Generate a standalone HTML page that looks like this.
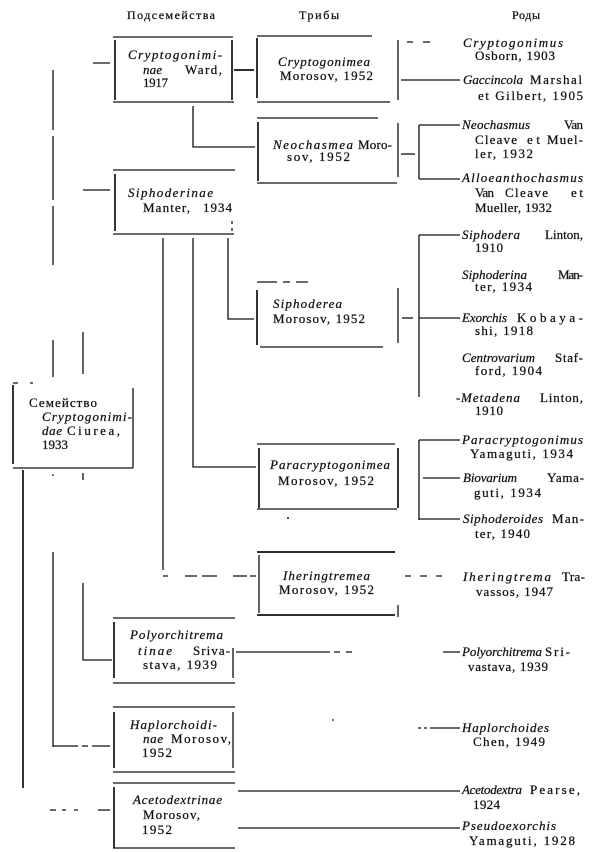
<!DOCTYPE html>
<html>
<head>
<meta charset="utf-8">
<style>
html,body{margin:0;padding:0;background:#fff;}
body{width:600px;height:852px;overflow:hidden;}
svg{display:block;}
text{font-family:"Liberation Serif","DejaVu Serif",serif;font-size:13px;fill:#111;stroke:#111;stroke-width:0.25;}
.h{font-size:12px;}
.i{font-style:italic;}
line,path{stroke:#111;stroke-width:1.3;fill:none;}
.b{stroke-width:1.7;}
.dd{stroke-dasharray:3 4;}
</style>
</head>
<body>
<svg width="600" height="852" viewBox="0 0 600 852" xmlns="http://www.w3.org/2000/svg">
<!-- headers -->
<text class="h" x="127" y="19" textLength="88" lengthAdjust="spacing">Подсемейства</text>
<text class="h" x="299" y="19" textLength="40" lengthAdjust="spacing">Трибы</text>
<text class="h" x="512" y="19" textLength="28" lengthAdjust="spacing">Роды</text>

<!-- Box 1 Cryptogonimiinae -->
<path d="M113,37 H233"/>
<path d="M113,102 H234"/>
<path class="b" d="M115,40 V100"/>
<path class="b" d="M232,40 V100"/>
<path d="M93,63 H110"/>
<path class="b" d="M234,70 H254"/>
<text class="i" x="128" y="59" textLength="94" lengthAdjust="spacing">Cryptogonimi-</text>
<text class="i" x="143" y="74" textLength="19" lengthAdjust="spacing">nae</text>
<text x="185" y="74" textLength="37" lengthAdjust="spacing">Ward,</text>
<text x="143" y="87" textLength="25" lengthAdjust="spacing">1917</text>

<!-- Tribe Cryptogonimea -->
<path d="M257,36 H372"/>
<path d="M257,102 H390"/>
<path class="b" d="M257,38 V98"/>
<path d="M398,40 V100"/>
<path d="M401,80 H460"/>
<path d="M407,42 H413 M423,42 H430"/>
<text class="i" x="278" y="66" textLength="92" lengthAdjust="spacing">Cryptogonimea</text>
<text x="280" y="80" textLength="93" lengthAdjust="spacing">Morosov, 1952</text>

<!-- connector to Neochasmea -->
<path d="M193,106 V147 H255"/>

<!-- Neochasmea -->
<path d="M257,118 H378"/>
<path d="M257,183 H397"/>
<path class="b" d="M258,122 V181"/>
<path d="M398,123 V177"/>
<path d="M401,154 H415"/>
<path d="M419,125 V179"/>
<path d="M419,125 H460 M419,179 H460"/>
<text class="i" x="273" y="149" textLength="80" lengthAdjust="spacing">Neochasmea</text>
<text x="358" y="149" textLength="34" lengthAdjust="spacing">Moro-</text>
<text x="287" y="161" textLength="63" lengthAdjust="spacing">sov, 1952</text>

<!-- Siphoderinae -->
<path d="M113,170 H235"/>
<path d="M113,234 H234"/>
<path class="b" d="M115,174 V231"/>
<path class="dd" d="M232,221 V231"/>
<path d="M83,190 H110"/>
<text class="i" x="128" y="197" textLength="85" lengthAdjust="spacing">Siphoderinae</text>
<text x="143" y="212" textLength="47" lengthAdjust="spacing">Manter,</text>
<text x="203" y="212" textLength="29" lengthAdjust="spacing">1934</text>

<!-- verticals from Siphoderinae -->
<path d="M163,238 V570"/>
<path d="M193,238 V467 H256"/>
<path d="M228,238 V319 H254"/>

<!-- Siphoderea -->
<path d="M257,282 H277 M283,282 H290 M296,282 H308"/>
<path d="M260,347 H383"/>
<path class="b" d="M257,290 V345"/>
<path d="M398,288 V343"/>
<path d="M402,318 H413"/>
<path d="M419,235 V397"/>
<path d="M419,235 H460 M419,318 H460"/>
<text class="i" x="273" y="308" textLength="69" lengthAdjust="spacing">Siphoderea</text>
<text x="273" y="323" textLength="92" lengthAdjust="spacing">Morosov, 1952</text>

<!-- Paracryptogonimea -->
<path d="M257,444 H395"/>
<path d="M257,509 H397"/>
<path class="b" d="M259,448 V508"/>
<path class="b" d="M398,448 V508"/>
<path d="M419,440 V520"/>
<path d="M419,440 H460 M423,478 H460 M419,519 H460"/>
<circle cx="288" cy="518" r="1" fill="#111"/>
<text class="i" x="270" y="469" textLength="120" lengthAdjust="spacing">Paracryptogonimea</text>
<text x="278" y="485" textLength="96" lengthAdjust="spacing">Morosov, 1952</text>

<!-- Iheringtremea -->
<path class="b" d="M257,552 H395"/>
<path class="b" d="M257,615 H395"/>
<path d="M259,555 V613"/>
<path d="M398,605 V617"/>
<path d="M163,576 H168 M185,576 H197 M202,576 H217 M233,576 H247 M250,576 H256"/>
<path d="M405,576 H411 M420,576 H427 M436,576 H442"/>
<text class="i" x="283" y="580" textLength="87" lengthAdjust="spacing">Iheringtremea</text>
<text x="279" y="594" textLength="95" lengthAdjust="spacing">Morosov, 1952</text>

<!-- Family box and verticals -->
<path d="M53,70 V130 M53,136 V200 M53,206 V265"/>
<path d="M53,340 V377"/>
<path d="M83,332 V374"/>
<path d="M13,383 H18 M30,383 H33"/>
<path class="b" d="M13,385 V464"/>
<path d="M133,388 V468"/>
<path d="M13,468 H133"/>
<text x="29" y="407" textLength="68" lengthAdjust="spacing">Семейство</text>
<text class="i" x="42" y="421" textLength="90" lengthAdjust="spacing">Cryptogonimi-</text>
<text class="i" x="42" y="435" textLength="20" lengthAdjust="spacing">dae</text>
<text x="67" y="435" textLength="53" lengthAdjust="spacing">Ciurea,</text>
<text x="42" y="449" textLength="26" lengthAdjust="spacing">1933</text>

<!-- left verticals below family -->
<path class="b" d="M23,470 V788"/>
<path d="M53,552 V747"/>
<circle cx="53" cy="475" r="0.9" fill="#111"/>
<path d="M83,473 V480"/>
<path d="M83,583 V660 H112"/>
<path d="M53,746 H78 M82,746 H88 M92,746 H110"/>
<path d="M50,810 H56 M62,810 H66 M74,810 H78 M98,810 H110"/>

<!-- Polyorchitrematinae -->
<path d="M113,618 H235"/>
<path d="M113,683 H235"/>
<path class="b" d="M114,622 V678"/>
<path d="M233,648 V678"/>
<path d="M236,652 H330 M334,652 H340 M346,652 H352"/>
<path d="M443,652 H460"/>
<text class="i" x="130" y="639" textLength="93" lengthAdjust="spacing">Polyorchitrema</text>
<text class="i" x="138" y="655" textLength="34" lengthAdjust="spacing">tinae</text>
<text x="193" y="655" textLength="37" lengthAdjust="spacing">Sriva-</text>
<text x="143" y="669" textLength="74" lengthAdjust="spacing">stava, 1939</text>

<!-- Haplorchoidinae -->
<path d="M113,707 H235"/>
<path d="M113,772 H235"/>
<path class="b" d="M114,712 V768"/>
<path d="M233,712 V768"/>
<circle cx="333" cy="720" r="0.9" fill="#111"/>
<path d="M418,728 H421 M424,728 H427 M430,728 H460"/>
<text class="i" x="130" y="729" textLength="87" lengthAdjust="spacing">Haplorchoidi-</text>
<text class="i" x="143" y="743" textLength="20" lengthAdjust="spacing">nae</text>
<text x="171" y="743" textLength="60" lengthAdjust="spacing">Morosov,</text>
<text x="142" y="757" textLength="30" lengthAdjust="spacing">1952</text>

<!-- Acetodextrinae -->
<path d="M113,783 H235"/>
<path d="M113,848 H235"/>
<path class="b" d="M114,787 V848"/>
<path d="M238,791 H460"/>
<path d="M238,828 H460"/>
<text class="i" x="133" y="804" textLength="89" lengthAdjust="spacing">Acetodextrinae</text>
<text x="143" y="819" textLength="57" lengthAdjust="spacing">Morosov,</text>
<text x="142" y="834" textLength="30" lengthAdjust="spacing">1952</text>

<!-- Genera -->
<text class="i" x="463" y="47" textLength="100" lengthAdjust="spacing">Cryptogonimus</text>
<text x="475" y="60" textLength="80" lengthAdjust="spacing">Osborn, 1903</text>

<text class="i" x="463" y="84" textLength="60" lengthAdjust="spacing">Gaccincola</text>
<text x="530" y="84" textLength="52" lengthAdjust="spacing">Marshal</text>
<text x="478" y="100" textLength="105" lengthAdjust="spacing">et Gilbert,  1905</text>

<text class="i" x="462" y="129" textLength="68" lengthAdjust="spacing">Neochasmus</text>
<text x="564" y="129" textLength="19" lengthAdjust="spacing">Van</text>
<text x="475" y="144" textLength="42" lengthAdjust="spacing">Cleave</text>
<text x="527" y="144" textLength="13" lengthAdjust="spacing">et</text>
<text x="547" y="144" textLength="36" lengthAdjust="spacing">Muel-</text>
<text x="475" y="158" textLength="58" lengthAdjust="spacing">ler, 1932</text>

<text class="i" x="462" y="182" textLength="121" lengthAdjust="spacing">Alloeanthochasmus</text>
<text x="475" y="197" textLength="19" lengthAdjust="spacing">Van</text>
<text x="505" y="197" textLength="43" lengthAdjust="spacing">Cleave</text>
<text x="571" y="197" textLength="12" lengthAdjust="spacing">et</text>
<text x="475" y="212" textLength="77" lengthAdjust="spacing">Mueller, 1932</text>

<text class="i" x="462" y="239" textLength="58" lengthAdjust="spacing">Siphodera</text>
<text x="545" y="239" textLength="38" lengthAdjust="spacing">Linton,</text>
<text x="475" y="252" textLength="28" lengthAdjust="spacing">1910</text>

<text class="i" x="462" y="279" textLength="65" lengthAdjust="spacing">Siphoderina</text>
<text x="558" y="279" textLength="25" lengthAdjust="spacing">Man-</text>
<text x="475" y="291" textLength="57" lengthAdjust="spacing">ter, 1934</text>

<text class="i" x="462" y="322" textLength="45" lengthAdjust="spacing">Exorchis</text>
<text x="517" y="322" textLength="66" lengthAdjust="spacing">Kobaya-</text>
<text x="475" y="335" textLength="58" lengthAdjust="spacing">shi, 1918</text>

<text class="i" x="462" y="362" textLength="73" lengthAdjust="spacing">Centrovarium</text>
<text x="555" y="362" textLength="28" lengthAdjust="spacing">Staf-</text>
<text x="475" y="375" textLength="67" lengthAdjust="spacing">ford, 1904</text>

<text x="456" y="402">-</text>
<text class="i" x="461" y="402" textLength="59" lengthAdjust="spacing">Metadena</text>
<text x="540" y="402" textLength="43" lengthAdjust="spacing">Linton,</text>
<text x="475" y="415" textLength="28" lengthAdjust="spacing">1910</text>

<text class="i" x="462" y="444" textLength="121" lengthAdjust="spacing">Paracryptogonimus</text>
<text x="470" y="458" textLength="103" lengthAdjust="spacing">Yamaguti, 1934</text>

<text class="i" x="463" y="482" textLength="54" lengthAdjust="spacing">Biovarium</text>
<text x="547" y="482" textLength="37" lengthAdjust="spacing">Yama-</text>
<text x="474" y="497" textLength="67" lengthAdjust="spacing">guti, 1934</text>

<text class="i" x="463" y="523" textLength="80" lengthAdjust="spacing">Siphoderoides</text>
<text x="552" y="523" textLength="32" lengthAdjust="spacing">Man-</text>
<text x="475" y="538" textLength="55" lengthAdjust="spacing">ter, 1940</text>

<text class="i" x="463" y="581" textLength="88" lengthAdjust="spacing">Iheringtrema</text>
<text x="562" y="581" textLength="23" lengthAdjust="spacing">Tra-</text>
<text x="476" y="596" textLength="77" lengthAdjust="spacing">vassos, 1947</text>

<text class="i" x="462" y="656" textLength="80" lengthAdjust="spacing">Polyorchitrema</text>
<text x="545" y="656" textLength="25" lengthAdjust="spacing">Sri-</text>
<text x="468" y="671" textLength="80" lengthAdjust="spacing">vastava, 1939</text>

<text class="i" x="462" y="732" textLength="87" lengthAdjust="spacing">Haplorchoides</text>
<text x="473" y="746" textLength="72" lengthAdjust="spacing">Chen, 1949</text>

<text class="i" x="462" y="794" textLength="60" lengthAdjust="spacing">Acetodextra</text>
<text x="530" y="794" textLength="50" lengthAdjust="spacing">Pearse,</text>
<text x="473" y="809" textLength="27" lengthAdjust="spacing">1924</text>

<text class="i" x="462" y="830" textLength="94" lengthAdjust="spacing">Pseudoexorchis</text>
<text x="469" y="845" textLength="106" lengthAdjust="spacing">Yamaguti, 1928</text>
</svg>
</body>
</html>
